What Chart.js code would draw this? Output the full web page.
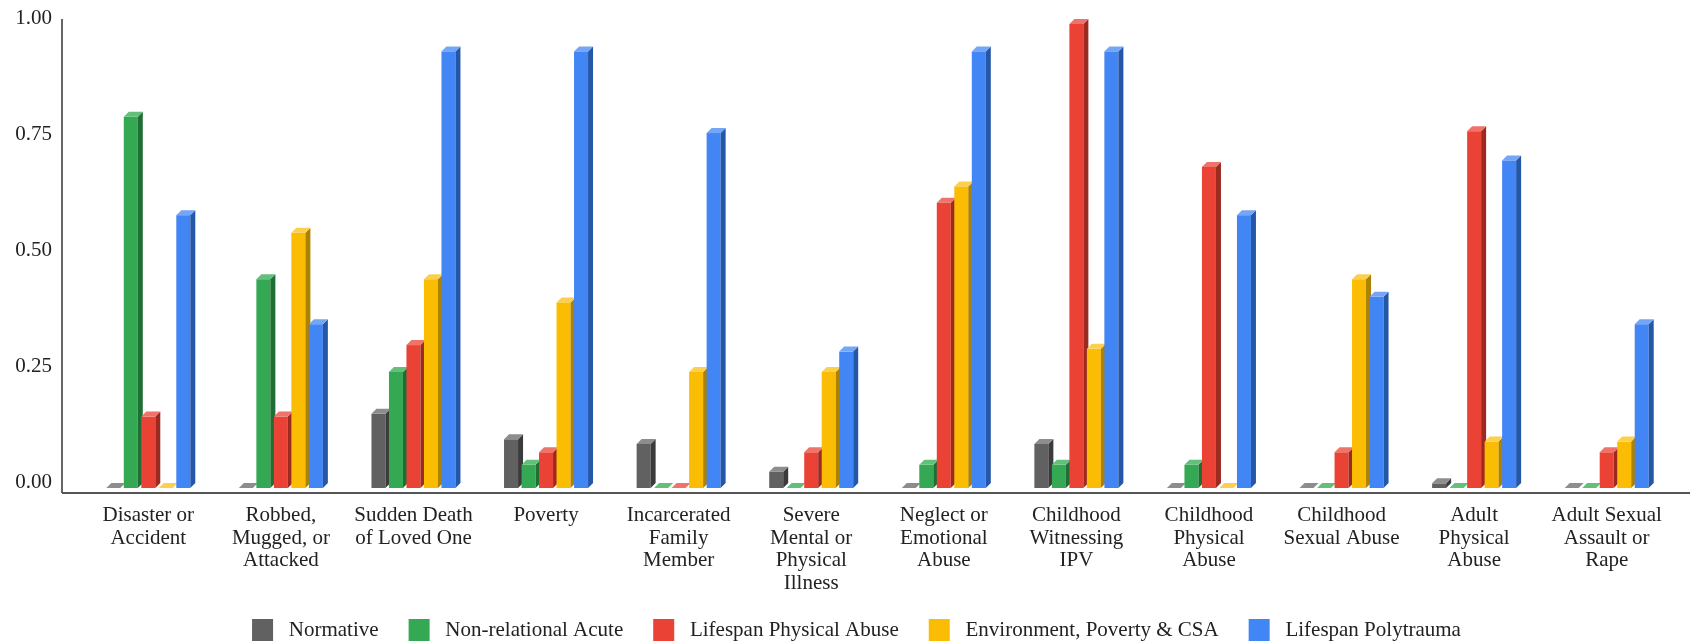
<!DOCTYPE html>
<html>
<head>
<meta charset="utf-8">
<title>Trauma classes</title>
<script src="https://cdn.jsdelivr.net/npm/chart.js@4"></script>
<style>
    html, body { margin: 0; padding: 0; background: #fff; }
    #wrap { width: 1690px; height: 644px; position: relative; }
</style>
</head>
<body>
<div id="wrap"><canvas id="traumaChart"></canvas></div>
<script>
const categories = [
    ['Disaster or', 'Accident'],
    ['Robbed,', 'Mugged, or', 'Attacked'],
    ['Sudden Death', 'of Loved One'],
    ['Poverty'],
    ['Incarcerated', 'Family', 'Member'],
    ['Severe', 'Mental or', 'Physical', 'Illness'],
    ['Neglect or', 'Emotional', 'Abuse'],
    ['Childhood', 'Witnessing', 'IPV'],
    ['Childhood', 'Physical', 'Abuse'],
    ['Childhood', 'Sexual Abuse'],
    ['Adult', 'Physical', 'Abuse'],
    ['Adult Sexual', 'Assault or', 'Rape']
];

const seriesNames = ['Normative', 'Non-relational Acute', 'Lifespan Physical Abuse', 'Environment, Poverty & CSA', 'Lifespan Polytrauma'];

const normative = [0, 0, 0.16, 0.105, 0.095, 0.035, 0, 0.095, 0, 0, 0.01, 0];
const nonRelational = [0.80, 0.45, 0.25, 0.05, 0, 0, 0.05, 0.05, 0.05, 0, 0, 0];
const lifespanPhysical = [0.154, 0.154, 0.308, 0.077, 0, 0.077, 0.615, 1.0, 0.692, 0.077, 0.769, 0.077];
const environmentPoverty = [0, 0.55, 0.45, 0.40, 0.25, 0.25, 0.65, 0.30, 0, 0.45, 0.10, 0.10];
const polytrauma = [0.588, 0.353, 0.941, 0.941, 0.765, 0.294, 0.941, 0.941, 0.588, 0.412, 0.706, 0.353];

const yTicks = [0, 0.25, 0.5, 0.75, 1];

// front / side / top colours for the fake 3d bars
const colors = [
    { front: '#616161', side: '#3b3b3b', top: '#8d8d8d' },
    { front: '#34a853', side: '#1f6e35', top: '#62c07a' },
    { front: '#ea4335', side: '#9c2a20', top: '#f0736a' },
    { front: '#fbbc04', side: '#ad8200', top: '#fcd04c' },
    { front: '#4285f4', side: '#2457a8', top: '#74a5f7' }
];

const allValues = [normative, nonRelational, lifespanPhysical, environmentPoverty, polytrauma];
const FONT = '"Liberation Serif", "Times New Roman", serif';
const DEPTH = 5;

const bars3d = {
    id: 'bars3d',
    afterLayout(chart) {
        // nudge the legend a bit right and up, like the original
        chart.legend.left += 20;
        chart.legend.right += 20;
        chart.legend.top -= 7;
        chart.legend.bottom -= 7;
    },
    beforeDatasetDraw() {
        return false; // we draw the bars ourselves, left to right
    },
    afterDatasetsDraw(chart) {
        const ctx = chart.ctx;
        const n = chart.data.labels.length;
        ctx.save();
        for (let i = 0; i < n; i++) {
            chart.data.datasets.forEach(function (ds, d) {
                const meta = chart.getDatasetMeta(d);
                if (meta.hidden) return;
                const p = meta.data[i].getProps(['x', 'y', 'base', 'width'], true);
                const l = p.x - p.width / 2, r = p.x + p.width / 2;
                const c = colors[d];
                ctx.fillStyle = c.front;
                ctx.fillRect(l, p.y, p.width, p.base - p.y);
                ctx.fillStyle = c.side;
                ctx.beginPath();
                ctx.moveTo(r, p.y);
                ctx.lineTo(r + DEPTH, p.y - DEPTH);
                ctx.lineTo(r + DEPTH, p.base - DEPTH);
                ctx.lineTo(r, p.base);
                ctx.closePath();
                ctx.fill();
                ctx.fillStyle = c.top;
                ctx.beginPath();
                ctx.moveTo(l, p.y);
                ctx.lineTo(l + DEPTH, p.y - DEPTH);
                ctx.lineTo(r + DEPTH, p.y - DEPTH);
                ctx.lineTo(r, p.y);
                ctx.closePath();
                ctx.fill();
            });
        }
        ctx.restore();
    },
    afterDraw(chart) {
        const ctx = chart.ctx;
        const a = chart.chartArea;
        const ax = a.left - 20;
        const by = a.bottom + 5;
        ctx.save();
        ctx.strokeStyle = '#333';
        ctx.lineWidth = 1.5;
        ctx.beginPath();
        ctx.moveTo(ax, a.top - 5);
        ctx.lineTo(ax, by);
        ctx.stroke();
        ctx.strokeStyle = '#555';
        ctx.lineWidth = 2;
        ctx.beginPath();
        ctx.moveTo(ax, by);
        ctx.lineTo(chart.width, by);
        ctx.stroke();
        ctx.restore();
    }
};

new Chart(document.getElementById('traumaChart').getContext('2d'), {
    type: 'bar',
    data: {
        labels: categories,
        datasets: seriesNames.map(function (name, d) {
            return {
                label: name,
                data: allValues[d],
                backgroundColor: colors[d].front,
                barPercentage: 0.8,
                categoryPercentage: 0.66
            };
        })
    },
    options: {
        responsive: true,
        maintainAspectRatio: false,
        animation: false,
        layout: { padding: { top: 24, right: 17, left: 0, bottom: -14 } },
        plugins: {
            tooltip: { enabled: false },
            legend: {
                position: 'bottom',
                labels: {
                    boxWidth: 21,
                    boxHeight: 22,
                    padding: 30,
                    color: '#222',
                    font: { family: FONT, size: 21 },
                    generateLabels(chart) {
                        const items = Chart.defaults.plugins.legend.labels.generateLabels(chart);
                        items.forEach(function (it) { it.text = ' ' + it.text; it.lineWidth = 0; });
                        return items;
                    }
                }
            }
        },
        scales: {
            x: {
                grid: { display: false, drawTicks: false },
                border: { display: false },
                ticks: {
                    color: '#222',
                    padding: 16,
                    maxRotation: 0,
                    autoSkip: false,
                    font: { family: FONT, size: 21, lineHeight: 1.08 }
                },
                afterFit(scale) { scale.height = 108; }
            },
            y: {
                min: 0,
                max: 1,
                afterBuildTicks(scale) { scale.ticks = yTicks.map(function (v) { return { value: v }; }); },
                grid: { display: false, drawTicks: false },
                border: { display: false },
                ticks: {
                    color: '#222',
                    padding: 30,
                    labelOffset: -6,
                    font: { family: FONT, size: 21 },
                    callback: function (v) { return Number(v).toFixed(2); }
                },
                afterFit(scale) {
                    scale.width = 82;
                    scale.paddingTop = 0;
                    scale.paddingBottom = 0;
                }
            }
        }
    },
    plugins: [bars3d]
});
</script>
</body>
</html>
